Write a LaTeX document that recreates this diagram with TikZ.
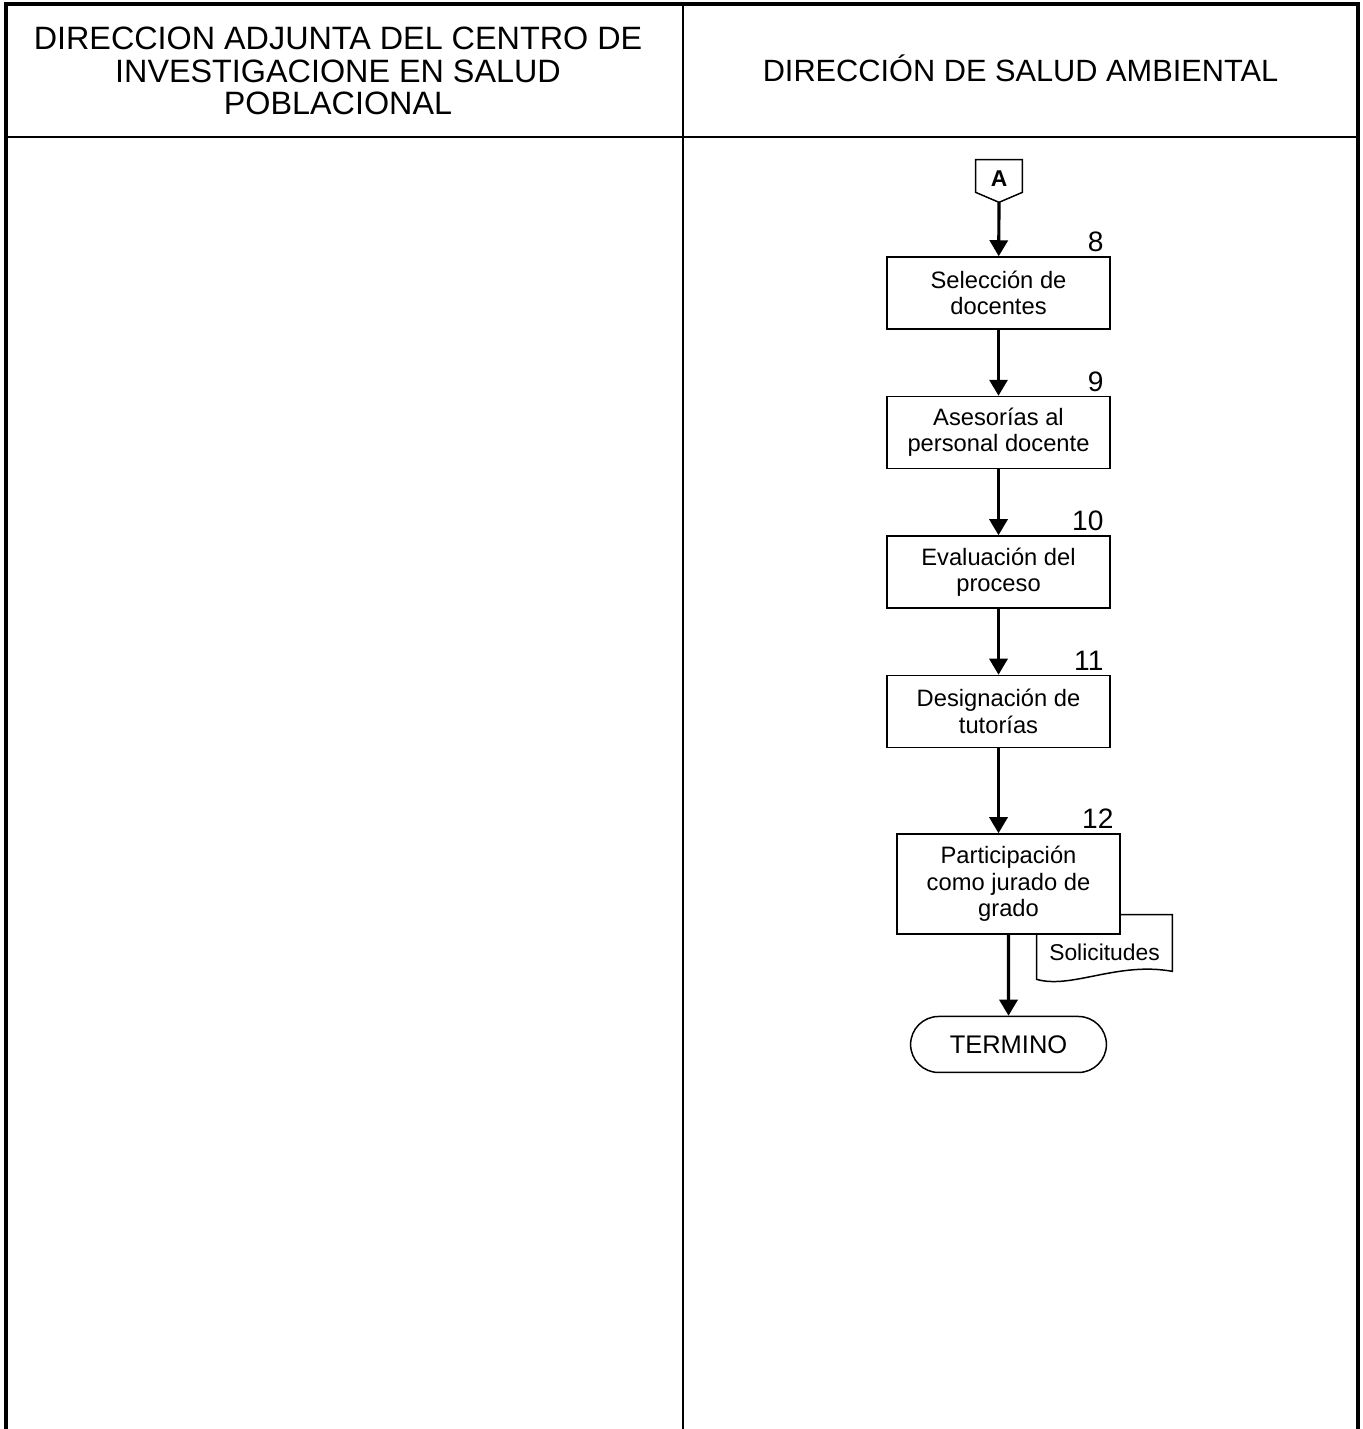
\documentclass[tikz,border=0pt]{standalone}
\usepackage{fontspec}
\setmainfont{Liberation Sans}
\usepackage{tikz}
\usetikzlibrary{positioning, arrows.meta, shapes.misc, calc}
\usepackage{xcolor}
\definecolor{Ink}{HTML}{000000}
\tikzset{
    paso/.style={draw=Ink, line width=0.85pt, fill=white, minimum width=4.46cm,
                 minimum height=1.44cm, align=center, font=\fontsize{13.5}{15}\selectfont},
    numero/.style={anchor=south east, inner sep=0pt, font=\fontsize{16}{16}\selectfont},
    flecha/.style={draw=Ink, line width=1.8pt, -{Triangle[width=0.36cm, length=0.32cm]}},
    marco/.style={draw=Ink, line width=2.8pt},
    titulo/.style={align=center, font=\fontsize{17.5}{18.4}\selectfont}
}

\begin{document}
\begin{tikzpicture}
            \useasboundingbox (0,0) rectangle (27.24,-28.58);
            \draw[marco] (0.12,-28.8) -- (0.12,-0.08) -- (27.16,-0.08) -- (27.16,-28.8);
            \draw[draw=Ink, line width=1.7pt] (0.12,-2.74) -- (27.16,-2.74);
            \draw[draw=Ink, line width=1.4pt] (13.66,-0.08) -- (13.66,-28.8);
            \node[titulo, font=\fontsize{18.4}{18.4}\selectfont] (col1) at (6.76,-1.42)
                {DIRECCION ADJUNTA DEL CENTRO DE\\INVESTIGACIONE EN SALUD\\POBLACIONAL};
            \node[titulo] (col2) at (20.41,-1.36) {DIRECCIÓN DE SALUD AMBIENTAL};

            \node[minimum width=0.92cm, minimum height=0.64cm, inner sep=0pt, text height=0.42cm,
                  font=\fontsize{13}{13}\selectfont\bfseries] (conA) at (19.98,-3.52) {A};
            \coordinate (conAtip) at ($(conA.south)+(0,-0.2)$);
            \draw[draw=Ink, line width=0.85pt] (conA.north west) -- (conA.north east)
                -- (conA.south east) -- (conAtip) -- (conA.south west) -- cycle;

            \node[paso] (b8) at (19.97,-5.86) {Selección de\\docentes};
            \node[paso, below=1.32cm of b8] (b9) {Asesorías al\\personal docente};
            \node[paso, below=1.32cm of b9] (b10) {Evaluación del\\proceso};
            \node[paso, below=1.32cm of b10] (b11) {Designación de\\tutorías};

            \node[minimum width=2.7cm, minimum height=1.48cm, inner sep=0pt,
                  font=\fontsize{13}{13}\selectfont] (solic) at (22.09,-19.04) {Solicitudes};
            \draw[draw=Ink, line width=0.85pt] (solic.north west) -- (solic.north east)
                -- ([yshift=0.36cm]solic.south east)
                .. controls +(-1.1,0.2) and +(0.7,-0.2) .. ([yshift=0.2cm]solic.south west)
                -- cycle;

            \node[paso, minimum height=2cm, below=1.7cm of b11, xshift=0.2cm] (b12)
                {Participación\\como jurado de\\grado};
            \node[draw=Ink, line width=0.85pt, rounded rectangle, minimum width=4.15cm,
                  minimum height=1.12cm, font=\fontsize{14.5}{14.5}\selectfont,
                  below=1.62cm of b12] (term) {TERMINO};

            \foreach \k in {8,...,12}
                \node[numero] (n\k) at ([xshift=-0.14cm, yshift=0.08cm]b\k.north east) {\k};

            \draw[flecha] (conAtip) -- (b8);
            \draw[flecha] (b8) -- (b9);
            \draw[flecha] (b9) -- (b10);
            \draw[flecha] (b10) -- (b11);
            \draw[flecha] (b11.south) -- (b11.south |- b12.north);
            \draw[flecha] (b12) -- (term);
\end{tikzpicture}
\end{document}
